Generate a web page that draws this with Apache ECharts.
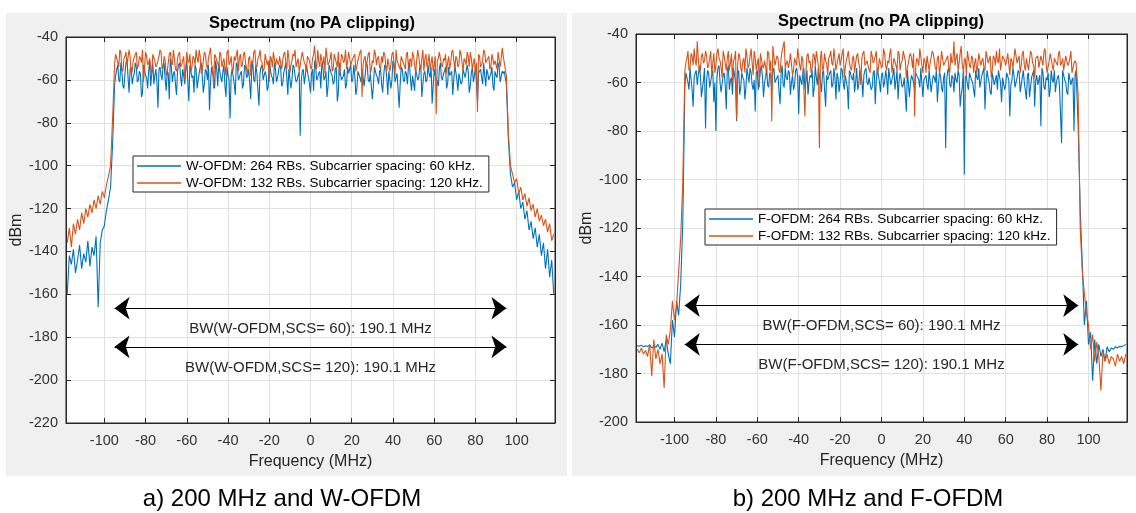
<!DOCTYPE html>
<html>
<head>
<meta charset="utf-8">
<script src="https://cdn.jsdelivr.net/npm/echarts@6/dist/echarts.min.js"></script>
<style>
html,body{margin:0;padding:0;background:#fff;}
#c{width:1136px;height:513px;}
</style>
</head>
<body>
<div id="c"></div>
<script>
// ---------------- DATA ----------------
// main frequency grid (MHz): -118 .. 118, step 1
const freqStart = -118;
const freqStep = 1;
// in-band half-MHz samples (MHz): -94.5 .. 93.5, step 1
const midStart = -94.5;
const midStep = 1;
const xTickValues = [-100, -80, -60, -40, -20, 0, 20, 40, 60, 80, 100];

// panel a) W-OFDM, 264 RBs, SCS 60 kHz (dBm) on main grid
const wofdm60 = [
  -160, -142, -146, -139, -150, -144, -137, -148, -141, -145, -135, -147, -138, -142, -133, -166, -136, -130, -128, -121, -116, -110, -90, -62,
  -55, -60, -52, -63, -57, -50, -66, -54, -59, -52,
  -61, -56, -68, -53, -58, -64, -51, -57, -62, -55,
  -73, -54, -60, -52, -65, -57, -50, -61, -56, -67,
  -53, -59, -55, -62, -51, -70, -56, -58, -53, -64,
  -57, -52, -66, -55, -60, -74, -54, -59, -51, -63,
  -56, -61, -53, -68, -58, -78, -55, -62, -52, -60,
  -57, -64, -53, -59, -55, -69, -52, -61, -57, -72,
  -54, -60, -56, -65, -51, -58, -62, -55, -59, -53,
  -63, -57, -52, -67, -55, -60, -54, -61, -58, -86,
  -56, -62, -53, -59, -66, -55, -51, -60, -57, -64,
  -54, -59, -68, -53, -57, -62, -55, -70, -52, -60,
  -58, -64, -54, -57, -61, -53, -67, -56, -59, -55,
  -63, -52, -60, -57, -69, -54, -58, -62, -55, -66,
  -53, -59, -56, -64, -51, -61, -57, -73, -54, -60,
  -56, -62, -52, -65, -58, -55, -60, -54, -68, -57,
  -61, -53, -59, -71, -55, -58, -63, -52, -60, -56,
  -64, -54, -58, -67, -53, -60, -57, -62, -55, -59,
  -53, -66, -57, -61, -54, -70, -56, -59, -52, -63,
  -57, -60, -54, -65, -58, -52, -61, -56,
  -56, -62, -88, -104, -110, -108, -116, -112, -120, -117, -125, -121, -130, -126, -134, -129, -138, -132, -142, -136, -148, -139, -152, -144, -160
];
const wofdm60Mid = [
  -58, -53, -61, -56, -64, -52, -59, -55, -62, -57,
  -54, -60, -57, -66, -53, -59, -56, -63, -52, -58,
  -61, -55, -58, -53, -60, -56, -69, -54, -57, -62,
  -56, -52, -63, -58, -55, -61, -53, -59, -66, -55,
  -60, -54, -58, -62, -56, -53, -61, -57, -64, -55,
  -52, -59, -56, -63, -54, -60, -58, -55, -67, -53,
  -59, -56, -62, -54, -58, -61, -55, -60, -53, -65,
  -57, -53, -60, -58, -63, -55, -59, -52, -61, -56,
  -54, -62, -57, -59, -55, -64, -53, -58, -60, -56,
  -61, -55, -58, -53, -62, -57, -65, -54, -59, -56,
  -52, -60, -56, -63, -55, -58, -61, -54, -66, -57,
  -59, -55, -62, -57, -53, -60, -58, -64, -56, -61,
  -55, -58, -53, -61, -57, -63, -54, -59, -56, -62,
  -58, -54, -67, -56, -60, -53, -59, -57, -62, -55,
  -61, -57, -54, -60, -58, -65, -55, -59, -53, -62,
  -56, -60, -57, -54, -63, -58, -61, -55, -59, -57,
  -54, -62, -58, -56, -60, -53, -65, -57, -61, -55,
  -59, -56, -63, -54, -58, -61, -57, -55, -62, -58,
  -55, -60, -57, -63, -56, -59, -54, -61, -57
];
// panel a) W-OFDM, 132 RBs, SCS 120 kHz (dBm)
const wofdm120 = [
  -136, -129, -138, -127, -132, -125, -130, -122, -127, -120, -124, -118, -122, -116, -120, -114, -118, -112, -115, -109, -105, -100, -78, -52,
  -50, -54, -47, -56, -49, -53, -46, -58, -51, -48,
  -55, -49, -52, -61, -47, -53, -50, -57, -48, -54,
  -51, -46, -55, -49, -58, -52, -47, -53, -50, -56,
  -48, -54, -51, -60, -47, -52, -56, -49, -53, -50,
  -46, -57, -51, -48, -55, -50, -53, -64, -49, -52,
  -47, -54, -50, -58, -46, -52, -55, -49, -51, -56,
  -48, -53, -47, -55, -50, -58, -52, -46, -54, -49,
  -51, -56, -48, -53, -61, -50, -47, -54, -52, -49,
  -55, -48, -52, -46, -57, -51, -49, -54, -50, -53,
  -47, -52, -56, -49, -54, -50, -44, -55, -51, -48,
  -53, -57, -49, -52, -47, -55, -50, -54, -58, -48,
  -52, -46, -55, -50, -53, -49, -56, -51, -47, -68,
  -50, -54, -48, -57, -51, -46, -53, -49, -55, -52,
  -48, -56, -50, -53, -47, -58, -51, -54, -49, -52,
  -55, -47, -51, -54, -49, -57, -46, -53, -50, -56,
  -48, -52, -55, -49, -53, -76, -50, -47, -54, -51,
  -57, -49, -52, -46, -55, -50, -53, -48, -56, -51,
  -47, -54, -50, -52, -57, -75, -49, -53, -46, -52,
  -50, -55, -48, -53, -51, -47, -54, -45,
  -52, -58, -85, -100, -104, -108, -106, -113, -110, -116, -113, -119, -115, -121, -118, -124, -120, -126, -123, -128, -125, -131, -127, -135, -132
];
const wofdm120Mid = [
  -48, -52, -46, -55, -50, -47, -53, -49, -56, -51,
  -47, -53, -50, -46, -54, -49, -52, -55, -48, -51,
  -53, -49, -47, -54, -51, -56, -48, -52, -46, -55,
  -50, -47, -53, -49, -55, -51, -48, -54, -50, -46,
  -52, -49, -56, -47, -53, -50, -45, -54, -48, -51,
  -55, -48, -52, -50, -47, -53, -49, -56, -51, -46,
  -50, -54, -48, -52, -57, -49, -51, -47, -53, -50,
  -46, -52, -55, -48, -51, -49, -54, -47, -50, -53,
  -49, -51, -47, -55, -50, -53, -48, -46, -52, -56,
  -50, -47, -53, -49, -51, -55, -48, -52, -46, -54,
  -51, -49, -45, -53, -50, -56, -48, -52, -47, -54,
  -49, -51, -55, -47, -53, -50, -48, -56, -51, -46,
  -53, -49, -51, -47, -55, -52, -48, -50, -54, -49,
  -47, -53, -50, -56, -48, -52, -46, -51, -55, -49,
  -52, -48, -54, -50, -47, -53, -51, -49, -55, -46,
  -50, -54, -48, -52, -56, -49, -51, -47, -53, -50,
  -48, -52, -55, -47, -51, -49, -54, -46, -52, -50,
  -53, -49, -47, -55, -50, -52, -48, -54, -51, -47,
  -52, -49, -54, -48, -51, -55, -47, -50, -49
];
// panel b) F-OFDM, 264 RBs, SCS 60 kHz (dBm)
const fofdm60 = [
  -168.5, -168.8, -168.3, -169, -168.6, -168.9, -168.2, -169.5, -168.7, -169.2, -168, -170, -167.5, -171, -166, -172, -176, -158, -165, -150, -156, -143, -118, -62,
  -58, -63, -54, -70, -56, -61, -53, -66, -59, -79,
  -55, -62, -57, -68, -80, -54, -60, -64, -56, -71,
  -53, -59, -65, -57, -76, -55, -62, -58, -67, -54,
  -60, -56, -63, -72, -55, -59, -53, -66, -58, -61,
  -56, -64, -54, -60, -57, -69, -53, -62, -58, -55,
  -65, -57, -61, -54, -73, -59, -56, -63, -55, -60,
  -58, -66, -53, -61, -57, -64, -55, -70, -59, -56,
  -62, -54, -67, -58, -60, -55, -63, -57, -71, -56,
  -59, -64, -54, -61, -57, -66, -55, -60, -58, -63,
  -56, -69, -54, -60, -57, -62, -55, -65, -58, -61,
  -54, -59, -67, -56, -62, -58, -72, -55, -60, -57,
  -63, -56, -59, -54, -66, -58, -61, -55, -64, -57,
  -60, -68, -56, -62, -58, -87, -55, -61, -57, -64,
  -59, -55, -70, -62, -98, -57, -63, -56, -60, -66,
  -58, -54, -62, -57, -71, -55, -60, -65, -56, -59,
  -63, -55, -68, -58, -61, -56, -74, -59, -57, -62,
  -55, -64, -58, -60, -67, -56, -62, -58, -70, -57,
  -61, -78, -56, -63, -59, -66, -55, -60, -64, -58,
  -62, -85, -57, -60, -65, -56, -59, -80,
  -55, -78, -112, -135, -160, -150, -168, -163, -183, -166, -176, -168, -173, -170, -175, -169, -171, -169.5, -170, -169, -169.5, -168.8, -169, -168.5, -168
];
const fofdm60Mid = [
  -56, -60, -54, -63, -58, -55, -61, -57, -66, -54,
  -59, -56, -62, -55, -60, -58, -53, -64, -57, -61,
  -55, -63, -58, -54, -60, -57, -65, -56, -59, -62,
  -57, -54, -61, -59, -56, -63, -55, -58, -60, -54,
  -62, -57, -55, -60, -58, -64, -56, -61, -54, -59,
  -56, -60, -63, -55, -58, -57, -61, -54, -59, -65,
  -57, -55, -62, -58, -54, -60, -56, -63, -57, -59,
  -55, -61, -58, -56, -64, -54, -60, -57, -62, -55,
  -58, -56, -60, -63, -55, -59, -57, -54, -61, -58,
  -62, -55, -59, -57, -64, -56, -60, -58, -54, -61,
  -57, -63, -55, -59, -56, -61, -58, -55, -66, -57,
  -60, -56, -58, -62, -54, -59, -57, -63, -55, -60,
  -58, -55, -61, -57, -64, -56, -59, -54, -62, -58,
  -56, -60, -57, -65, -55, -58, -61, -56, -59, -63,
  -55, -59, -62, -57, -54, -60, -58, -64, -56, -61,
  -57, -55, -60, -58, -63, -56, -59, -61, -54, -62,
  -58, -56, -61, -55, -60, -57, -66, -58, -55, -59,
  -61, -57, -54, -62, -58, -56, -63, -59, -55, -60,
  -57, -62, -55, -59, -64, -56, -61, -58, -57
];
// panel b) F-OFDM, 132 RBs, SCS 120 kHz (dBm)
const fofdm120 = [
  -170, -171.5, -169.5, -172, -170.5, -173, -168, -181, -166, -174, -170, -176, -172, -186, -164, -168, -162, -150, -158, -152, -138, -124, -101, -55,
  -50, -55, -48, -53, -51, -43, -56, -49, -52, -47,
  -54, -50, -57, -48, -53, -46, -51, -58, -49, -55,
  -47, -52, -60, -50, -75, -48, -54, -51, -56, -49,
  -53, -46, -57, -50, -52, -62, -48, -54, -51, -47,
  -55, -76, -49, -53, -50, -56, -47, -43, -52, -54,
  -48, -57, -50, -53, -46, -55, -51, -74, -49, -52,
  -56, -48, -53, -50, -87, -47, -54, -51, -57, -49,
  -52, -46, -55, -50, -53, -48, -58, -51, -47, -54,
  -50, -56, -49, -52, -61, -48, -53, -51, -55, -47,
  -52, -49, -57, -50, -54, -46, -53, -51, -48, -56,
  -50, -53, -47, -55, -51, -49, -58, -52, -48, -54,
  -74, -50, -53, -46, -56, -51, -49, -55, -52, -48,
  -54, -50, -57, -47, -53, -51, -49, -56, -52, -43,
  -50, -55, -48, -53, -51, -57, -47, -54, -50, -52,
  -56, -48, -53, -50, -55, -47, -52, -58, -49, -53,
  -51, -46, -55, -50, -53, -48, -57, -51, -54, -49,
  -52, -56, -48, -53, -50, -55, -47, -52, -58, -50,
  -54, -49, -53, -46, -56, -51, -48, -55, -50, -53,
  -47, -52, -55, -49, -53, -50, -56, -52,
  -52, -65, -120, -138, -147, -155, -160, -170, -164, -175, -167, -173, -187, -171, -175, -172, -176, -173, -174, -177, -172, -175, -173, -176, -172
];
const fofdm120Mid = [
  -52, -47, -54, -49, -46, -53, -50, -55, -48, -51,
  -49, -53, -47, -52, -56, -48, -50, -54, -47, -52,
  -50, -55, -48, -51, -47, -53, -49, -56, -50, -46,
  -54, -49, -52, -47, -55, -50, -48, -53, -51, -56,
  -48, -51, -45, -53, -49, -55, -50, -47, -54, -51,
  -52, -48, -55, -50, -46, -53, -49, -51, -56, -48,
  -51, -54, -49, -47, -53, -50, -55, -48, -52, -50,
  -47, -53, -50, -55, -48, -51, -46, -54, -49, -52,
  -55, -49, -52, -48, -54, -50, -47, -53, -51, -56,
  -49, -51, -47, -54, -50, -53, -48, -55, -52, -46,
  -53, -50, -55, -48, -52, -47, -51, -54, -49, -50,
  -48, -54, -51, -46, -53, -50, -56, -49, -52, -47,
  -51, -55, -49, -53, -47, -52, -50, -54, -48, -51,
  -53, -48, -52, -45, -55, -50, -47, -53, -49, -56,
  -50, -53, -48, -51, -54, -47, -52, -49, -55, -50,
  -47, -52, -55, -49, -51, -53, -48, -50, -54, -46,
  -52, -49, -53, -47, -55, -50, -51, -48, -53, -50,
  -49, -54, -51, -47, -52, -56, -48, -53, -50, -52,
  -48, -53, -50, -55, -49, -52, -47, -54, -51
];

const namesW = ['W-OFDM: 264 RBs. Subcarrier spacing: 60 kHz.', 'W-OFDM: 132 RBs. Subcarrier spacing: 120 kHz.'];
const namesF = ['F-OFDM: 264 RBs. Subcarrier spacing: 60 kHz.', 'F-OFDM: 132 RBs. Subcarrier spacing: 120 kHz.'];
const bwLabelsW = ['BW(W-OFDM,SCS= 60): 190.1 MHz', 'BW(W-OFDM,SCS= 120): 190.1 MHz'];
const bwLabelsF = ['BW(F-OFDM,SCS= 60): 190.1 MHz', 'BW(F-OFDM,SCS= 120): 190.1 MHz'];
const bwLevelsW = [-166.5, -184.5];
const bwLevelsF = [-152, -168];
const bwMHz = 190.1;
const captions = ['a) 200 MHz and W-OFDM', 'b) 200 MHz and F-OFDM'];
const titleText = 'Spectrum (no PA clipping)';

// ---------------- CHART ----------------
const FONT = '"Liberation Sans", Arial, Helvetica, sans-serif';
const AX = '#262626';
const GRIDC = '#e0e0e0';
const BLUE = '#0072BD';
const ORANGE = '#D95319';
const X_LIM = 118.6;

function pairs(vals, mids) {
  const a = vals.map((v, i) => [freqStart + i * freqStep, v]);
  const b = mids.map((v, i) => [midStart + i * midStep, v]);
  return a.concat(b).sort((p, q) => p[0] - q[0]);
}

function xAxes(g) {
  return [
    {
      gridIndex: g, type: 'value', position: 'bottom', min: -X_LIM, max: X_LIM,
      name: 'Frequency (MHz)', nameLocation: 'middle', nameGap: 31,
      nameTextStyle: { fontSize: 16, color: AX, fontFamily: FONT },
      axisLine: { show: true, onZero: false, lineStyle: { color: AX, width: 1 } },
      axisTick: { show: true, inside: true, length: 5, customValues: xTickValues, lineStyle: { color: AX } },
      axisLabel: { customValues: xTickValues, fontSize: 14.5, color: '#333', margin: 10, fontFamily: FONT },
      splitLine: { show: true, lineStyle: { color: GRIDC, width: 1 } }
    },
    {
      gridIndex: g, type: 'value', position: 'top', min: -X_LIM, max: X_LIM,
      axisLine: { show: true, onZero: false, lineStyle: { color: AX, width: 1 } },
      axisTick: { show: true, inside: true, length: 5, customValues: xTickValues, lineStyle: { color: AX } },
      axisLabel: { show: false, customValues: xTickValues },
      splitLine: { show: false }
    }
  ];
}

function yAxes(g, min) {
  return [
    {
      gridIndex: g, type: 'value', position: 'left', min: min, max: -40, interval: 20,
      name: 'dBm', nameLocation: 'middle', nameGap: 38,
      nameTextStyle: { fontSize: 16, color: AX, fontFamily: FONT },
      axisLine: { show: true, onZero: false, lineStyle: { color: AX, width: 1 } },
      axisTick: { show: true, inside: true, length: 5, lineStyle: { color: AX } },
      axisLabel: { fontSize: 14.5, color: '#333', margin: 8, fontFamily: FONT },
      splitLine: { show: true, lineStyle: { color: GRIDC, width: 1 } }
    },
    {
      gridIndex: g, type: 'value', position: 'right', min: min, max: -40, interval: 20,
      axisLine: { show: true, onZero: false, lineStyle: { color: AX, width: 1 } },
      axisTick: { show: true, inside: true, length: 5, lineStyle: { color: AX } },
      axisLabel: { show: false },
      splitLine: { show: false }
    }
  ];
}

function bwMarks(levels, labels) {
  const half = bwMHz / 2;
  return {
    silent: true,
    symbol: ['arrow', 'arrow'],
    symbolSize: [17, 15],
    lineStyle: { color: '#000', width: 1, type: 'solid' },
    label: {
      show: true, position: 'insideMiddleBottom', distance: 13, formatter: '{b}',
      fontSize: 15, color: AX, fontFamily: FONT
    },
    emphasis: { disabled: true },
    data: levels.map((lv, i) => [
      { coord: [-half, lv], name: labels[i] },
      { coord: [half, lv] }
    ])
  };
}

function lineSeries(name, vals, mids, color, xi, yi, mark) {
  const s = {
    name: name, type: 'line', xAxisIndex: xi, yAxisIndex: yi,
    data: pairs(vals, mids), symbol: 'none', showSymbol: false,
    lineStyle: { color: color, width: 1.1 }, itemStyle: { color: color },
    sampling: null, animation: false, silent: true
  };
  if (mark) s.markLine = mark;
  return s;
}

const chart = echarts.init(document.getElementById('c'), null, { renderer: 'canvas' });

const legendCommon = {
  orient: 'vertical', borderColor: AX, borderWidth: 1, backgroundColor: '#fff',
  padding: [3, 6, 2, 4], itemWidth: 44, itemHeight: 1.4, itemGap: 3, icon: 'rect',
  textStyle: { fontSize: 13.5, color: '#000', fontFamily: FONT },
  selectedMode: false, z: 20
};

chart.setOption({
  animation: false,
  textStyle: { fontFamily: FONT },
  grid: [
    { left: 66, top: 37, width: 489, height: 386, show: true, backgroundColor: '#fff', borderColor: AX, borderWidth: 1 },
    { left: 636, top: 34, width: 491, height: 388, show: true, backgroundColor: '#fff', borderColor: AX, borderWidth: 1 }
  ],
  xAxis: xAxes(0).concat(xAxes(1)),
  yAxis: yAxes(0, -220).concat(yAxes(1, -200)),
  legend: [
    Object.assign({ left: 133, top: 156, data: namesW }, legendCommon),
    Object.assign({ left: 705, top: 209, data: namesF }, legendCommon)
  ],
  series: [
    lineSeries(namesW[0], wofdm60, wofdm60Mid, BLUE, 0, 0),
    lineSeries(namesW[1], wofdm120, wofdm120Mid, ORANGE, 0, 0, bwMarks(bwLevelsW, bwLabelsW)),
    lineSeries(namesF[0], fofdm60, fofdm60Mid, BLUE, 2, 2),
    lineSeries(namesF[1], fofdm120, fofdm120Mid, ORANGE, 2, 2, bwMarks(bwLevelsF, bwLabelsF))
  ],
  graphic: [
    { type: 'rect', z: -100, silent: true, shape: { x: 6, y: 13, width: 561, height: 463 }, style: { fill: '#f0f0f0' } },
    { type: 'rect', z: -100, silent: true, shape: { x: 572, y: 13, width: 564, height: 463 }, style: { fill: '#f0f0f0' } },
    { type: 'text', z: 50, silent: true, x: 312, y: 23, style: { text: titleText, fill: '#000', font: 'bold 16.5px ' + FONT, align: 'center', verticalAlign: 'middle', textAlign: 'center', textVerticalAlign: 'middle' } },
    { type: 'text', z: 50, silent: true, x: 881, y: 21.5, style: { text: titleText, fill: '#000', font: 'bold 16.5px ' + FONT, align: 'center', verticalAlign: 'middle', textAlign: 'center', textVerticalAlign: 'middle' } },
    { type: 'text', z: 50, silent: true, x: 282, y: 499, style: { text: captions[0], fill: '#000', font: '24px ' + FONT, align: 'center', verticalAlign: 'middle', textAlign: 'center', textVerticalAlign: 'middle' } },
    { type: 'text', z: 50, silent: true, x: 868, y: 499, style: { text: captions[1], fill: '#000', font: '24px ' + FONT, align: 'center', verticalAlign: 'middle', textAlign: 'center', textVerticalAlign: 'middle' } }
  ]
});
</script>
</body>
</html>
